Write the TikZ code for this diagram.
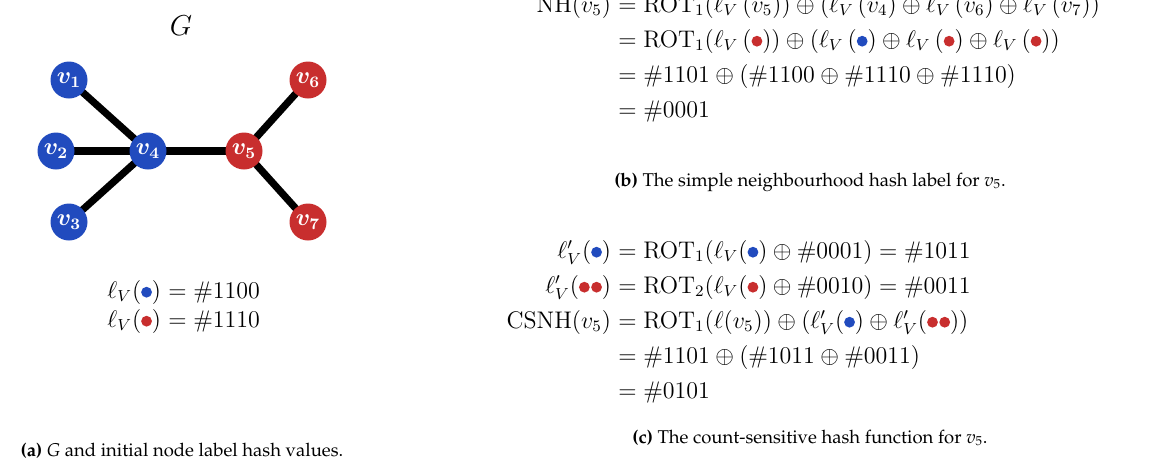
\documentclass[tikz,border=0pt]{standalone}
\usepackage{amsmath}
\usepackage[T1,TU]{fontenc}
\usepackage{xcolor}
\usetikzlibrary{positioning,backgrounds}
\definecolor{nodeblue}{RGB}{33,75,190}
\definecolor{nodered}{RGB}{200,46,46}
\newcommand{\eqfont}{\fontsize{11.6}{14}\selectfont}
\newcommand{\capfont}{\fontencoding{T1}\fontfamily{ppl}\fontsize{9.25}{11}\selectfont}
\newcommand{\bdot}{\tikz[baseline=-2.9pt]\fill[nodeblue] (0,0) circle (2.7pt);}
\newcommand{\rdot}{\tikz[baseline=-2.9pt]\fill[nodered] (0,0) circle (2.7pt);}
\newcommand{\rrdot}{\tikz[baseline=-2.9pt]{\fill[nodered] (0,0) circle (2.7pt) (6.1pt,0) circle (2.7pt);}}
\tikzset{
  vertex/.style={circle, minimum size=18.5pt, inner sep=0pt, text=white,
    font=\eqfont\boldmath},
  bluevertex/.style={vertex, fill=nodeblue},
  redvertex/.style={vertex, fill=nodered},
  edge/.style={line width=3.6pt, black},
  eqleft/.style={anchor=base east, inner sep=0pt, font=\eqfont},
  eqright/.style={anchor=base west, inner sep=0pt, font=\eqfont},
  caption/.style={anchor=base, inner sep=0pt, font=\capfont}
}

\begin{document}
\begin{tikzpicture}[x=0.5pt, y=-0.5pt]
\useasboundingbox (0,0) rectangle (1158,461);

% (a) the graph G
\node[font=\fontsize{15.5}{18}\selectfont] (title) at (181,26) {$G$};
\node[bluevertex] (v1) at (69,80) {$v_1$};
\node[bluevertex] (v2) at (56,151) {$v_2$};
\node[bluevertex] (v3) at (69,222) {$v_3$};
\node[bluevertex] (v4) at (148,151) {$v_4$};
\node[redvertex] (v5) at (244,151) {$v_5$};
\node[redvertex] (v6) at (308,80) {$v_6$};
\node[redvertex] (v7) at (308,222) {$v_7$};
\begin{scope}[on background layer]
\draw[edge] (v1.center) -- (v4.center);
\draw[edge] (v2.center) -- (v4.center);
\draw[edge] (v3.center) -- (v4.center);
\draw[edge] (v4.center) -- (v5.center);
\draw[edge] (v5.center) -- (v6.center);
\draw[edge] (v5.center) -- (v7.center);
\end{scope}

\node[eqleft] (hblue) at (161.5,298) {$\ell_V(\bdot)$};
\node[eqright] (hblueval) at (168,298) {$= \#1100$};
\node[eqleft] (hred) at (161.5,327) {$\ell_V(\rdot)$};
\node[eqright] (hredval) at (168,327) {$= \#1110$};

\node[caption] (capa) at (182,456) {{\bfseries (a)} {\itshape G} and initial node label hash values.};

% (b) simple neighbourhood hash
\node[eqleft] (nh) at (611.5,12) {$\mathrm{NH}(v_5)$};
\node[eqright] (nhA) at (618,12) {$= \mathrm{ROT}_1(\ell_V\,(v_5)) \oplus (\ell_V\,(v_4) \oplus \ell_V\,(v_6) \oplus \ell_V\,(v_7))$};
\node[eqright] (nhB) at (618,47) {$= \mathrm{ROT}_1(\ell_V\,(\rdot)) \oplus (\ell_V\,(\bdot) \oplus \ell_V\,(\rdot) \oplus \ell_V\,(\rdot))$};
\node[eqright] (nhC) at (618,82) {$= \#1101 \oplus (\#1100 \oplus \#1110 \oplus \#1110)$};
\node[eqright] (nhD) at (618,117) {$= \#0001$};

\node[caption] (capb) at (810,186) {{\bfseries (b)} The simple neighbourhood hash label for {\itshape v}\textsubscript{5}.};

% (c) count-sensitive hash
\node[eqleft] (csblue) at (611.5,258) {$\ell'_V(\bdot)$};
\node[eqright] (csblueval) at (618,258) {$= \mathrm{ROT}_1(\ell_V(\bdot) \oplus \#0001) = \#1011$};
\node[eqleft] (csred) at (611.5,293) {$\ell'_V(\rrdot)$};
\node[eqright] (csredval) at (618,293) {$= \mathrm{ROT}_2(\ell_V(\rdot) \oplus \#0010) = \#0011$};
\node[eqleft] (csnh) at (611.5,328) {$\mathrm{CSNH}(v_5)$};
\node[eqright] (csA) at (618,328) {$= \mathrm{ROT}_1(\ell(v_5)) \oplus (\ell'_V(\bdot) \oplus \ell'_V(\rrdot))$};
\node[eqright] (csB) at (618,363) {$= \#1101 \oplus (\#1011 \oplus \#0011)$};
\node[eqright] (csC) at (618,398) {$= \#0101$};

\node[caption] (capc) at (810,443) {{\bfseries (c)} The count-sensitive hash function for {\itshape v}\textsubscript{5}.};
\end{tikzpicture}
\end{document}
